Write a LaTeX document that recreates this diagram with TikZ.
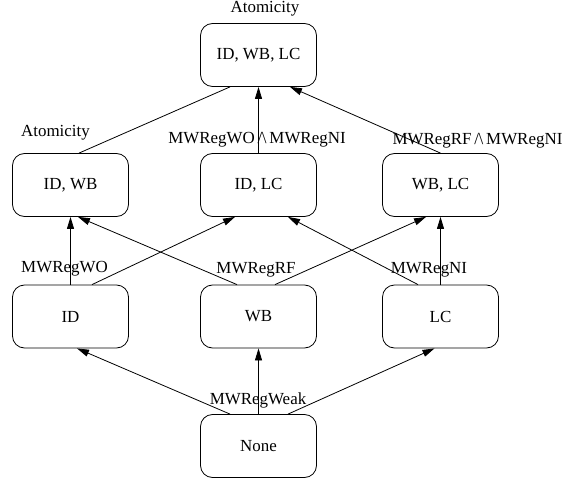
\documentclass[tikz,border=0pt]{standalone}
\usepackage{fontspec}
\setmainfont{Liberation Serif}
\usetikzlibrary{arrows.meta}
\usetikzlibrary{calc}
\newcommand{\Conj}{\,/\kern-0.5pt\textbackslash\,}

\begin{document}
\begin{tikzpicture}[x=1bp, y=-1bp,
    every node/.style={font=\fontsize{17}{20}\selectfont},
    cbox/.style={draw=black, line width=0.8bp, rounded corners=12bp,
        minimum width=116bp, minimum height=63bp, inner sep=0pt},
    lbl/.style={inner sep=0pt},
    imp/.style={line width=0.8bp, -{Triangle[length=12bp, width=7bp]}}]
    \useasboundingbox (0,0) rectangle (568,480);
    % boxes
    \node [cbox] (all)  at (258.5, 55)  {ID, WB, LC};
    \node [cbox] (idwb) at ( 70.5, 185) {ID, WB};
    \node [cbox] (idlc) at (258.5, 185) {ID, LC};
    \node [cbox] (wblc) at (440.5, 185) {WB, LC};
    \node [cbox] (id)   at ( 70.5, 316.5) {ID};
    \node [cbox] (wb)   at (258.5, 316.5) {WB};
    \node [cbox] (lc)   at (440.5, 316.5) {LC};
    \node [cbox] (none) at (258.5, 446) {None};
    % labels
    \node [lbl] (latom)  at (265, 9)    {Atomicity};
    \node [lbl] (latomb) at (55.5, 133) {Atomicity};
    \node [lbl] (lwoni)  at (257, 140)  {MWRegWO\Conj MWRegNI};
    \node [lbl] (lrfni)  at (477.5, 141) {MWRegRF\Conj MWRegNI};
    \node [lbl] (lwo)    at (64.5, 269) {MWRegWO};
    \node [lbl] (lrf)    at (256, 270)  {MWRegRF};
    \node [lbl] (lni)    at (429, 270)  {MWRegNI};
    \node [lbl] (lweak)  at (258, 400)  {MWRegWeak};
    % top level
    \draw [line width=0.8bp] ($(idwb.north)+(8.5,0)$) -- ($(all.south)+(-28.5,0)$);
    \draw [imp] (idlc.north) -- (all.south);
    \draw [imp] (wblc.north) -- ($(all.south)+(31.5,0)$);
    % middle level
    \draw [imp] (id.north) -- (idwb.south);
    \draw [imp] ($(id.north)+(21.5,0)$) -- ($(idlc.south)+(-23.5,0)$);
    \draw [imp] ($(wb.north)+(-21.5,0)$) -- ($(idwb.south)+(7.5,0)$);
    \draw [imp] ($(wb.north)+(16.5,0)$) -- ($(wblc.south)+(-14.5,0)$);
    \draw [imp] ($(lc.north)+(-22.5,0)$) -- ($(idlc.south)+(29.5,0)$);
    \draw [imp] (lc.north) -- (wblc.south);
    % bottom level
    \draw [imp] ($(none.north)+(-28.5,0)$) -- ($(id.south)+(6.5,0)$);
    \draw [imp] (none.north) -- (wb.south);
    \draw [imp] ($(none.north)+(29.5,0)$) -- ($(lc.south)+(-6,0)$);
\end{tikzpicture}
\end{document}
